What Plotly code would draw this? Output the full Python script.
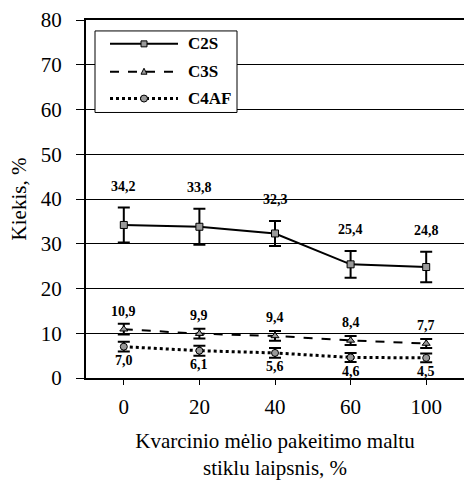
import plotly.graph_objects as go

# Replacement level of quartz flour by ground glass, %
categories = ["0", "20", "40", "60", "100"]

# Phase contents, %
c2s = [34.2, 33.8, 32.3, 25.4, 24.8]
c3s = [10.9, 9.9, 9.4, 8.4, 7.7]
c4af = [7.0, 6.1, 5.6, 4.6, 4.5]

# Standard deviations
c2s_err = [3.9, 4.0, 2.8, 3.0, 3.4]
c3s_err = [1.2, 1.1, 1.1, 1.0, 1.0]
c4af_err = [1.1, 1.1, 1.1, 1.0, 1.0]

y_ticks = [0, 10, 20, 30, 40, 50, 60, 70, 80]
series_names = ["C2S", "C3S", "C4AF"]

SERIF = "Liberation Serif, Times New Roman, serif"
GREY = "#9a9a9a"

W, H = 464, 480
M_L, M_R, M_T, M_B = 86, 0, 20, 100
PLOT_W = W - M_L - M_R
PLOT_H = H - M_T - M_B


def fmt(v):
    return f"{v:.1f}".replace(".", ",")


def px(xp):
    """horizontal page pixel -> paper fraction"""
    return (xp - M_L) / PLOT_W


def py(yp):
    """vertical page pixel -> paper fraction"""
    return (H - M_B - yp) / PLOT_H


fig = go.Figure()

styles = [
    ("solid", 2, "square", 7),
    ("dash", 2, "triangle-up", 7),
    ("dot", 3, "circle", 7),
]
values = [c2s, c3s, c4af]
errors = [c2s_err, c3s_err, c4af_err]

for name, vals, errs, (dash, lw, sym, ms) in zip(series_names, values, errors, styles):
    fig.add_trace(go.Scatter(
        x=categories, y=vals, name=name, mode="lines+markers",
        line=dict(color="black", width=lw, dash=dash),
        marker=dict(symbol=sym, size=ms, color=GREY,
                    line=dict(color="black", width=1)),
        error_y=dict(type="data", array=errs, visible=True,
                     color="black", thickness=2, width=6),
        showlegend=False,
    ))

label_font = dict(family=SERIF, size=14, color="black")

# annotations on a category axis are placed by category index
# C2S values above the upper whisker
for i, (v, e) in enumerate(zip(c2s, c2s_err)):
    fig.add_annotation(x=i, y=v + e, text=f"<b>{fmt(v)}</b>", showarrow=False,
                       yanchor="bottom", yshift=12, font=label_font)
# C3S values above the points
for i, v in enumerate(c3s):
    fig.add_annotation(x=i, y=v, text=f"<b>{fmt(v)}</b>", showarrow=False,
                       yanchor="middle", yshift=18, font=label_font)
# C4AF values below the points
for i, v in enumerate(c4af):
    fig.add_annotation(x=i, y=v, text=f"<b>{fmt(v)}</b>", showarrow=False,
                       yanchor="middle", yshift=-14, font=label_font)

# ---- legend box with long line samples ----
box = dict(x0=px(95), x1=px(237), y0=py(113), y1=py(31))
fig.add_shape(type="rect", xref="paper", yref="paper", **box,
              line=dict(color="black", width=1), fillcolor="white", layer="above")

row_y = [44, 72, 99]
line_x0, line_x1, mk_x, text_x = 110, 178, 144, 186
for name, ry, (dash, lw, sym, ms) in zip(series_names, row_y, styles):
    fig.add_shape(type="line", xref="paper", yref="paper",
                  x0=px(line_x0), x1=px(line_x1), y0=py(ry), y1=py(ry),
                  line=dict(color="black", width=lw, dash=dash), layer="above")
    r = 3
    mk_line = dict(color="black", width=1)
    if sym == "square":
        fig.add_shape(type="rect", xref="paper", yref="paper",
                      x0=px(mk_x - r), x1=px(mk_x + r), y0=py(ry + r), y1=py(ry - r),
                      line=mk_line, fillcolor=GREY, layer="above")
    elif sym == "circle":
        fig.add_shape(type="circle", xref="paper", yref="paper",
                      x0=px(mk_x - r - 0.5), x1=px(mk_x + r + 0.5),
                      y0=py(ry + r + 0.5), y1=py(ry - r - 0.5),
                      line=mk_line, fillcolor=GREY, layer="above")
    else:
        path = (f"M{px(mk_x - r)},{py(ry + r - 0.5)} "
                f"L{px(mk_x + r)},{py(ry + r - 0.5)} "
                f"L{px(mk_x)},{py(ry - r - 0.5)} Z")
        fig.add_shape(type="path", xref="paper", yref="paper", path=path,
                      line=mk_line, fillcolor=GREY, layer="above")
    fig.add_annotation(xref="paper", yref="paper", x=px(text_x), y=py(ry),
                       xanchor="left", yanchor="middle", showarrow=False,
                       text=f"<b>{name}</b>",
                       font=dict(family=SERIF, size=17, color="black"))

fig.update_layout(
    width=W, height=H,
    margin=dict(l=M_L, r=M_R, t=M_T, b=M_B),
    paper_bgcolor="white", plot_bgcolor="white",
    font=dict(family=SERIF, color="black"),
    showlegend=False,
    xaxis=dict(
        type="category", range=[-0.5, len(categories) - 0.5],
        showgrid=False, zeroline=False,
        showline=True, linecolor="black", linewidth=2, mirror=True,
        ticks="outside", ticklen=5, tickwidth=1, tickcolor="black",
        ticklabelstandoff=4,
        tickfont=dict(family=SERIF, size=21, color="black"),
        title=dict(text="Kvarcinio mėlio pakeitimo maltu<br>stiklu laipsnis, %",
                   font=dict(family=SERIF, size=21, color="black"), standoff=19),
    ),
    yaxis=dict(
        range=[0, 80], tickvals=y_ticks, showgrid=True,
        gridcolor="black", gridwidth=1, zeroline=False,
        showline=True, linecolor="black", linewidth=2,
        ticks="outside", ticklen=8, tickwidth=1, tickcolor="black",
        ticklabelstandoff=10,
        tickfont=dict(family=SERIF, size=21, color="black"),
        title=dict(text="Kiekis, %",
                   font=dict(family=SERIF, size=21, color="black"), standoff=8),
    ),
)

fig.write_html("out.html")
